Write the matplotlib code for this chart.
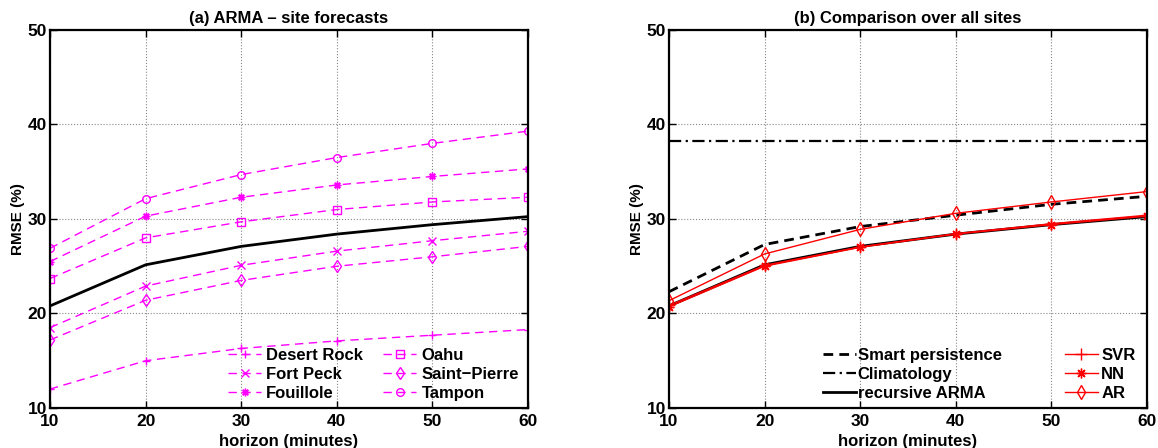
import numpy as np
import matplotlib.pyplot as plt

plt.rcParams['font.family'] = ['Liberation Sans', 'DejaVu Sans']
plt.rcParams['font.weight'] = 'bold'

# DATA
horizon = [10, 20, 30, 40, 50, 60]

sites = ['Desert Rock', 'Fort Peck', 'Fouillole', 'Oahu', 'Saint\u2212Pierre', 'Tampon']
ASTER = (8, 2, 0)  # MATLAB-like asterisk
site_markers = ['+', 'x', ASTER, 's', 'd', 'o']
desert_rock = [12.0, 15.0, 16.3, 17.1, 17.7, 18.3]
fort_peck = [18.5, 22.9, 25.1, 26.6, 27.7, 28.7]
fouillole = [25.5, 30.3, 32.3, 33.6, 34.5, 35.3]
oahu = [23.7, 28.0, 29.7, 31.0, 31.8, 32.3]
saint_pierre = [17.2, 21.4, 23.5, 25.0, 26.0, 27.1]
tampon = [26.9, 32.15, 34.7, 36.5, 38.0, 39.3]
site_values = [desert_rock, fort_peck, fouillole, oahu, saint_pierre, tampon]

arma = [20.8, 25.15, 27.1, 28.4, 29.4, 30.25]

smart_persistence = [22.3, 27.3, 29.2, 30.4, 31.55, 32.4]
climatology = [38.3, 38.3, 38.3, 38.3, 38.3, 38.3]
svr = [20.85, 25.1, 27.05, 28.45, 29.5, 30.4]
nn = [20.7, 25.0, 27.0, 28.4, 29.4, 30.3]
ar = [21.35, 26.3, 28.9, 30.6, 31.8, 32.9]

MAG = '#ff00ff'

fig = plt.figure(figsize=(11.58, 4.48), dpi=100)
ax1 = fig.add_axes([0.0432, 0.0893, 0.4128, 0.8438])
ax2 = fig.add_axes([0.5777, 0.0893, 0.4128, 0.8438])

def style(ax, title):
    ax.set_xlim(10, 60)
    ax.set_ylim(10, 50)
    ax.set_xticks(horizon)
    ax.set_yticks([10, 20, 30, 40, 50])
    ax.grid(True, linestyle=':', color='#888888', linewidth=0.8)
    ax.tick_params(direction='in', top=True, right=True, labelsize=12.5, length=5, width=1)
    ax.tick_params(axis='x', pad=4)
    ax.tick_params(axis='y', pad=2)
    for s in ax.spines.values():
        s.set_linewidth(1.6)
    ax.set_title(title, fontsize=12, fontweight='bold', pad=5)
    ax.set_xlabel('horizon (minutes)', fontsize=12, fontweight='bold', labelpad=4)
    ax.set_ylabel('RMSE (%)', fontsize=11, fontweight='bold', labelpad=2)

# (a)
handles = []
for name, m, vals in zip(sites, site_markers, site_values):
    ms = 6.5 if m == 'd' else 5.5
    h, = ax1.plot(horizon, vals, linestyle=(0, (6, 4)), color=MAG, marker=m,
                  markersize=ms, markerfacecolor='none', markeredgecolor=MAG,
                  linewidth=1, label=name)
    handles.append(h)
ax1.plot(horizon, arma, color='black', linewidth=2)
style(ax1, '(a) ARMA \u2013 site forecasts')
ax1.legend(handles=handles, ncol=2, loc='lower right', frameon=False, fontsize=12,
           handlelength=2.0, columnspacing=1.2, labelspacing=0.24, handletextpad=0.3,
           borderaxespad=0.0, bbox_to_anchor=(0.995, 0.0))

# (b)
l1, = ax2.plot(horizon, smart_persistence, color='black', linestyle=(0, (3.5, 2.2)), linewidth=2,
               label='Smart persistence')
l2, = ax2.plot(horizon, climatology, color='black', linestyle=(0, (5.5, 2, 1, 2)), linewidth=1.6,
               label='Climatology')
l3, = ax2.plot(horizon, arma, color='black', linewidth=2, label='recursive ARMA')
r1, = ax2.plot(horizon, svr, color='red', marker='+', markersize=8, linewidth=1, label='SVR')
r2, = ax2.plot(horizon, nn, color='red', marker=ASTER, markersize=7, linewidth=1, label='NN')
r3, = ax2.plot(horizon, ar, color='red', marker='d', markersize=7, markerfacecolor='none',
               linewidth=1, label='AR')
style(ax2, '(b) Comparison over all sites')
leg1 = ax2.legend(handles=[l1, l2, l3], loc='lower left', bbox_to_anchor=(0.3075, 0.0),
                  frameon=False, fontsize=12, handlelength=2.0, labelspacing=0.24,
                  handletextpad=0.1, borderaxespad=0.0)
ax2.add_artist(leg1)
ax2.legend(handles=[r1, r2, r3], loc='lower right', bbox_to_anchor=(0.99, 0.0),
           frameon=False, fontsize=12, handlelength=2.0, labelspacing=0.24,
           handletextpad=0.2, borderaxespad=0.0)

fig.savefig('out.png', dpi=100)
